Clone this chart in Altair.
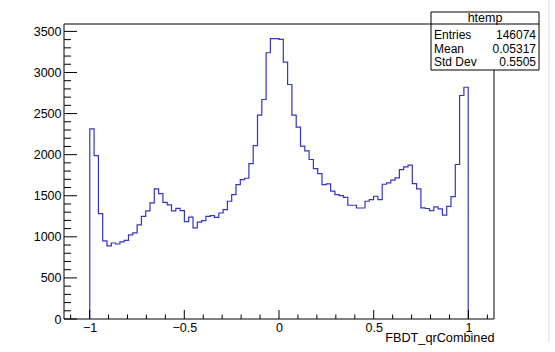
import altair as alt
import pandas as pd

# Histogram (ROOT htemp) of FBDT_qrCombined
x_min, x_max, n_bins_axis = -1.135, 1.135, 100
first_bin = 6  # index of first filled bin in axis binning
counts = [
    2314, 1989, 1283, 950, 889, 925, 913, 938, 958, 1023,
    1047, 1145, 1250, 1315, 1413, 1583, 1526, 1420, 1388, 1315,
    1347, 1320, 1185, 1240, 1110, 1180, 1197, 1250, 1258, 1237,
    1290, 1331, 1433, 1514, 1636, 1697, 1713, 1892, 2111, 2481,
    2671, 3240, 3411, 3411, 3402, 3126, 2854, 2481, 2335, 2103,
    2045, 1941, 1831, 1770, 1636, 1644, 1555, 1514, 1502, 1481,
    1384, 1384, 1351, 1351, 1433, 1453, 1494, 1453, 1640, 1656,
    1689, 1718, 1819, 1852, 1872, 1648, 1583, 1352, 1345, 1320,
    1365, 1340, 1265, 1370, 1490, 1880, 2720, 2820,
]
y_max = 3590

y_major = [0, 500, 1000, 1500, 2000, 2500, 3000, 3500]
y_minor = [v for v in range(0, 3600, 100) if v % 500 != 0]
x_major = [-1.0, -0.5, 0.0, 0.5, 1.0]
x_minor = [-1.1, -0.9, -0.8, -0.7, -0.6, -0.4, -0.3, -0.2, -0.1,
           0.1, 0.2, 0.3, 0.4, 0.6, 0.7, 0.8, 0.9, 1.1]

stats_title = "htemp"
stats_names = ["Entries", "Mean", "Std Dev"]
stats_values = ["146074", "0.05317", "0.5505"]
x_title = "FBDT_qrCombined"

W, H = 430, 295
FONT = "Liberation Sans"
LINE_COLOR = "#3434c8"

bw = (x_max - x_min) / n_bins_axis
edges = [x_min + (first_bin + i) * bw for i in range(len(counts) + 1)]
pts_x = [edges[0]] + edges[:-1] + [edges[-1], edges[-1]]
pts_y = [0] + counts + [counts[-1], 0]
hist = pd.DataFrame({"x": pts_x, "y": pts_y, "i": list(range(len(pts_x)))})

xscale = alt.Scale(domain=[x_min, x_max], nice=False, zero=False)
yscale = alt.Scale(domain=[0, y_max], nice=False, zero=False)

x_label_expr = "datum.value < 0 ? '\u2212' + format(-datum.value, '~g') : format(datum.value, '~g')"

X_AXIS = alt.Axis(
    values=x_major, ticks=False, domain=False, grid=False,
    labelExpr=x_label_expr, labelFont=FONT, labelFontSize=12.5,
    labelColor="black", labelPadding=2, labelFlush=False, labelOverlap=False,
    title=x_title, titleFont=FONT, titleFontSize=12.7, titleFontWeight="normal",
    titleColor="black", titleAlign="right", titleAnchor="end",
    titleX=W, titleY=22, titleBaseline="alphabetic")
Y_AXIS = alt.Axis(
    values=y_major, format="d", ticks=False, domain=False, grid=False,
    labelFont=FONT, labelFontSize=12.5, labelColor="black",
    labelPadding=3, labelOverlap=False, labelFlush=False, title=None)

line = alt.Chart(hist).mark_line(
    interpolate="step-after", color=LINE_COLOR, strokeWidth=1.2, clip=False
).encode(
    x=alt.X("x:Q", scale=xscale, axis=X_AXIS),
    y=alt.Y("y:Q", scale=yscale, axis=Y_AXIS),
    order="i:Q",
)

one = pd.DataFrame({"a": [0]})

ytick_major = alt.Chart(pd.DataFrame({"y": y_major})).mark_rule(color="black", strokeWidth=1).encode(
    y=alt.Y("y:Q", scale=yscale, axis=Y_AXIS), x=alt.value(0), x2=alt.value(13))
ytick_minor = alt.Chart(pd.DataFrame({"y": y_minor})).mark_rule(color="black", strokeWidth=1).encode(
    y=alt.Y("y:Q", scale=yscale, axis=Y_AXIS), x=alt.value(0), x2=alt.value(7))
xtick_major = alt.Chart(pd.DataFrame({"x": x_major})).mark_rule(color="black", strokeWidth=1).encode(
    x=alt.X("x:Q", scale=xscale, axis=X_AXIS), y=alt.value(H), y2=alt.value(H - 9))
xtick_minor = alt.Chart(pd.DataFrame({"x": x_minor})).mark_rule(color="black", strokeWidth=1).encode(
    x=alt.X("x:Q", scale=xscale, axis=X_AXIS), y=alt.value(H), y2=alt.value(H - 4.5))

frame = alt.Chart(one).mark_rect(fill=None, stroke="black", strokeWidth=1).encode(
    x=alt.value(0), x2=alt.value(W), y=alt.value(0), y2=alt.value(H))

# faint canvas edge on the right
canvas_edge = alt.Chart(one).mark_rule(color="#d9d9d9", strokeWidth=1).encode(
    x=alt.value(485), y=alt.value(-24), y2=alt.value(318))

BX0, BX1, BY0, BY1 = 367, 475, -12, 46
box = alt.Chart(one).mark_rect(fill="white", stroke="black", strokeWidth=1).encode(
    x=alt.value(BX0), x2=alt.value(BX1), y=alt.value(BY0), y2=alt.value(BY1))
box_sep = alt.Chart(one).mark_rule(color="black", strokeWidth=1).encode(
    x=alt.value(BX0), x2=alt.value(BX1), y=alt.value(0))
box_title = alt.Chart(pd.DataFrame({"t": [stats_title]})).mark_text(
    font=FONT, fontSize=12.5, color="black", align="center", baseline="middle"
).encode(text="t:N", x=alt.value((BX0 + BX1) / 2), y=alt.value(-6))

row_ys = [11, 24.5, 38]
box_rows = []
for name, val, ry in zip(stats_names, stats_values, row_ys):
    d = pd.DataFrame({"name": [name], "val": [val]})
    box_rows.append(alt.Chart(d).mark_text(
        font=FONT, fontSize=12, color="black", align="left", baseline="middle"
    ).encode(text="name:N", x=alt.value(BX0 + 3), y=alt.value(ry)))
    box_rows.append(alt.Chart(d).mark_text(
        font=FONT, fontSize=12, color="black", align="right", baseline="middle"
    ).encode(text="val:N", x=alt.value(BX1 - 3), y=alt.value(ry)))

chart = alt.layer(
    canvas_edge, line, ytick_minor, ytick_major, xtick_minor, xtick_major, frame,
    box, box_sep, box_title, *box_rows
).resolve_scale(y="shared", x="shared").properties(
    width=W, height=H,
    autosize=alt.AutoSizeParams(type="none"),
    padding={"left": 64, "top": 24, "right": 555 - 64 - W, "bottom": 352 - 24 - H},
    background="white",
).configure_view(stroke=None)

chart.save("out.html", embed_options={"renderer": "svg", "actions": False})
